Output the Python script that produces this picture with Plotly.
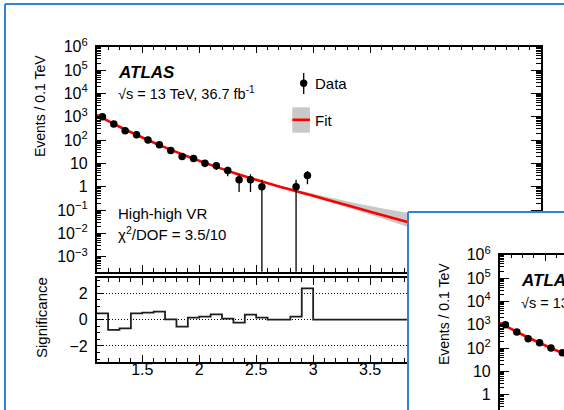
import plotly.graph_objects as go

W, H = 564, 410

# ---------------- data ----------------
bin_centers = [1.15, 1.25, 1.35, 1.45, 1.55, 1.65, 1.75, 1.85, 1.95, 2.05,
               2.15, 2.25, 2.35, 2.45, 2.55, 2.65, 2.75, 2.85, 2.95]
counts = [1000, 490, 253, 170, 100, 63, 36, 19.5, 16, 10,
          8, 5, 2, 2, 1, 0, 0, 1, 3]
count_err = [32, 22, 16, 13, 10, 8, 6, 4.4, 4, 3.2,
             2.8, 2.2, 1.41, 1.41, 1, 0, 0, 1, 1.73]

fit_x = [1.1, 1.3, 1.5, 1.7, 1.9, 2.1, 2.3, 2.5, 2.7, 2.9, 3.1, 3.3, 3.5,
         3.7, 3.9, 4.1, 4.3, 4.5, 4.7, 4.9, 5.0]
fit_y = [1200, 372, 129, 48.4, 19.7, 8.6, 3.98, 1.97, 1.02, 0.556, 0.299,
         0.160, 0.0851, 0.0457, 0.0245, 0.0132, 0.0069, 0.00363, 0.00186,
         0.00095, 0.00068]
band_hi = [1259, 389, 135, 50.1, 20.4, 8.91, 4.12, 2.07, 1.12, 0.653, 0.385,
           0.237, 0.148, 0.0977, 0.0661, 0.0468, 0.0316, 0.0224, 0.0158,
           0.0112, 0.0100]
band_lo = [1148, 355, 123, 46.8, 19.1, 8.32, 3.85, 1.88, 0.955, 0.495, 0.254,
           0.127, 0.0631, 0.0309, 0.0148, 0.00708, 0.00331, 0.00151,
           0.000676, 0.000316, 0.0002]

sig_edges = [1.1, 1.2, 1.3, 1.4, 1.5, 1.6, 1.7, 1.8, 1.9, 2.0, 2.1, 2.2, 2.3,
             2.4, 2.5, 2.6, 2.7, 2.8, 2.9, 3.0, 5.0]
sig_values = [0.48, -0.78, -0.66, 0.48, 0.53, 0.61, 0.03, -0.53, 0.15, 0.23,
              0.40, 0.08, -0.23, 0.38, 0.15, 0.0, 0.0, 0.23, 2.38, 0.0]

x_range = [1.1, 5.0]
x_tickvals = [1.5, 2.0, 2.5, 3.0, 3.5, 4.0, 4.5, 5.0]
x_ticktext = ["1.5", "2", "2.5", "3", "3.5", "", "", ""]   # last ones hidden under the overlapping box
logy_range = [-3.643, 6.0]
sig_range = [-3.2, 3.15]
y_major = [1e-3, 1e-2, 1e-1, 1, 10, 1e2, 1e3, 1e4, 1e5, 1e6]
y_major_text = ["10<sup>−3</sup>", "10<sup>−2</sup>", "10<sup>−1</sup>", "1", "10",
                "10<sup>2</sup>", "10<sup>3</sup>", "10<sup>4</sup>",
                "10<sup>5</sup>", "10<sup>6</sup>"]
y_minor = [m * 10.0 ** d for d in range(-4, 7) for m in range(2, 10)]

# ---------------- layout constants (pixels) ----------------
FONT = "Liberation Sans, Arial, Helvetica, sans-serif"
PX_X0, PX_X1 = 96.7, 541.0          # main panel x extent
TOP_Y0, TOP_Y1 = 46.7, 271.7        # main top panel
BOT_Y0, BOT_Y1 = 278.3, 361.7       # main ratio panel
DX, DY = 403.0, 208.0               # offset of the overlapping copy
BOX0 = (5.0, 4.0)                   # main box corner
BOX1 = (BOX0[0] + DX, BOX0[1] + DY)  # overlapping box corner
PX_PER_X = (PX_X1 - PX_X0) / (x_range[1] - x_range[0])
PX_PER_DEC = (TOP_Y1 - TOP_Y0) / (logy_range[1] - logy_range[0])
BLUE = "#3582d4"


def fx(p):
    return p / W


def fy(p):
    return 1 - p / H


fig = go.Figure()


def add_main_traces(xa, ya):
    fig.add_trace(go.Scatter(x=fit_x, y=band_lo, mode="lines", line=dict(width=0, shape="spline"),
                             xaxis=xa, yaxis=ya, hoverinfo="skip", showlegend=False))
    fig.add_trace(go.Scatter(x=fit_x, y=band_hi, mode="lines", line=dict(width=0, shape="spline"),
                             fill="tonexty", fillcolor="#c9c9c9",
                             xaxis=xa, yaxis=ya, hoverinfo="skip", showlegend=False))
    fig.add_trace(go.Scatter(x=fit_x, y=fit_y, mode="lines",
                             line=dict(color="#ff0000", width=2.6, shape="spline"),
                             xaxis=xa, yaxis=ya, hoverinfo="skip", showlegend=False))
    ex, ey, px, py = [], [], [], []
    for c, n, e in zip(bin_centers, counts, count_err):
        if n <= 0:
            continue
        lo = n - e
        if lo <= 0:
            lo = 1e-6
        ex += [c, c, None]
        ey += [lo, n + e, None]
        px.append(c)
        py.append(n)
    fig.add_trace(go.Scatter(x=ex, y=ey, mode="lines", line=dict(color="black", width=1.3),
                             xaxis=xa, yaxis=ya, hoverinfo="skip", showlegend=False))
    fig.add_trace(go.Scatter(x=px, y=py, mode="markers",
                             marker=dict(color="black", size=7.5, symbol="circle", line=dict(width=0)),
                             xaxis=xa, yaxis=ya, showlegend=False))


# main top panel
add_main_traces("x", "y")
# main ratio panel
fig.add_trace(go.Scatter(x=sig_edges, y=sig_values + [sig_values[-1]], mode="lines",
                         line=dict(color="#1e1e1e", width=1.8, shape="hv"),
                         xaxis="x2", yaxis="y2", showlegend=False))
# white cover (overlapping box) subplot
fig.add_trace(go.Scatter(x=[None], y=[None], xaxis="x3", yaxis="y3",
                         hoverinfo="skip", showlegend=False))
# overlapping copy of the top panel
add_main_traces("x4", "y4")

tickfont = dict(family=FONT, size=16, color="black")
common_x = dict(range=x_range, showgrid=False, zeroline=False, showline=True,
                linecolor="black", linewidth=1.5, ticks="inside", ticklen=7,
                tickwidth=1, tickcolor="black", tickmode="array",
                tickvals=x_tickvals, ticktext=x_ticktext,
                minor=dict(ticks="inside", ticklen=4, tickcolor="black", tickwidth=1,
                           tickmode="linear", tick0=0, dtick=0.1),
                tickfont=tickfont, automargin=False)
common_logy = dict(type="log", range=logy_range, showgrid=False, zeroline=False,
                   showline=True, linecolor="black", linewidth=1.5,
                   ticks="inside", ticklen=10, tickwidth=1, tickcolor="black",
                   tickmode="array", tickvals=y_major, ticktext=y_major_text,
                   minor=dict(ticks="inside", ticklen=5, tickcolor="black", tickwidth=1,
                              tickmode="array", tickvals=y_minor),
                   tickfont=tickfont, ticklabelstandoff=4, automargin=False)

fig.update_layout(
    template="none",
    width=W, height=H, autosize=False,
    margin=dict(l=0, r=0, t=0, b=0, autoexpand=False),
    paper_bgcolor="white", plot_bgcolor="white",
    font=dict(family=FONT, size=15, color="black"),
    showlegend=False,
    xaxis=dict(common_x, domain=[fx(PX_X0), fx(PX_X1)], anchor="y",
               showticklabels=False, mirror="ticks"),
    yaxis=dict(common_logy, domain=[fy(TOP_Y1), fy(TOP_Y0)], anchor="x", mirror="ticks"),
    xaxis2=dict(common_x, domain=[fx(PX_X0), fx(PX_X1)], anchor="y2",
                showticklabels=True, mirror="ticks", ticklabelstandoff=-8),
    yaxis2=dict(range=sig_range, domain=[fy(BOT_Y1), fy(BOT_Y0)], anchor="x2",
                showline=True, linecolor="black", linewidth=1.5, mirror="ticks",
                zeroline=False, ticks="inside", ticklen=7, tickwidth=1, tickcolor="black",
                tickmode="array", tickvals=[-2, 0, 2],
                showgrid=True, gridcolor="black", gridwidth=1, griddash="1px,2px",
                minor=dict(ticks="inside", ticklen=4, tickcolor="black", tickwidth=1,
                           tickmode="linear", tick0=0, dtick=0.5),
                tickfont=tickfont, ticklabelstandoff=4, automargin=False),
    xaxis3=dict(domain=[fx(BOX1[0]), 1], anchor="y3", range=[0, 1], showline=False,
                showticklabels=False, ticks="", showgrid=False, zeroline=False),
    yaxis3=dict(domain=[0, fy(BOX1[1])], anchor="x3", range=[0, 1], showline=False,
                showticklabels=False, ticks="", showgrid=False, zeroline=False),
    xaxis4=dict(common_x, domain=[fx(PX_X0 + DX), 1], anchor="y4", side="top",
                range=[x_range[0], x_range[0] + (W - PX_X0 - DX) / PX_PER_X],
                showticklabels=False, mirror=False),
    yaxis4=dict(common_logy, domain=[0, fy(TOP_Y0 + DY)], anchor="x4", mirror=False,
                range=[logy_range[1] - (H - TOP_Y0 - DY) / PX_PER_DEC, logy_range[1]]),
)

shapes = []
# legend symbols
shapes.append(dict(type="rect", xref="paper", yref="paper", x0=fx(292.3), x1=fx(310),
                   y0=fy(132.7), y1=fy(107.3), fillcolor="#c9c9c9", line=dict(width=0)))
shapes.append(dict(type="line", xref="paper", yref="paper", x0=fx(292.3), x1=fx(310),
                   y0=fy(119.8), y1=fy(119.8), line=dict(color="#ff0000", width=2.6)))
shapes.append(dict(type="line", xref="paper", yref="paper", x0=fx(303.7), x1=fx(303.7),
                   y0=fy(73), y1=fy(94), line=dict(color="black", width=1.3)))
shapes.append(dict(type="circle", xref="paper", yref="paper", x0=fx(300), x1=fx(307.4),
                   y0=fy(87), y1=fy(79.6), fillcolor="black", line=dict(width=0)))
# box borders
for bx, by in (BOX0, BOX1):
    shapes.append(dict(type="line", xref="paper", yref="paper", x0=fx(bx), x1=fx(bx),
                       y0=fy(by), y1=fy(H + 5), line=dict(color=BLUE, width=2), layer="above"))
    shapes.append(dict(type="line", xref="paper", yref="paper", x0=fx(bx), x1=fx(W + 5),
                       y0=fy(by), y1=fy(by), line=dict(color=BLUE, width=2), layer="above"))
fig.update_layout(shapes=shapes)


def text(x, y, t, size=15, anchor="left", angle=0, **kw):
    fig.add_annotation(x=fx(x), y=fy(y), xref="paper", yref="paper", text=t,
                       showarrow=False, xanchor=anchor, yanchor="middle",
                       textangle=angle, font=dict(family=FONT, size=size, color="black"),
                       **kw)


for ox, oy in ((0, 0), (DX, DY)):
    text(115.5 + ox, 72.7 + oy, "<b><i>ATLAS</i></b>", size=17)
    text(115.5 + ox, 93.5 + oy, "√s = 13 TeV, 36.7 fb<sup>-1</sup>", size=14.5)
    text(40.3 + ox, 105.8 + oy, "Events / 0.1 TeV", size=14, anchor="center", angle=-90)

text(312.5, 83.3, "Data", size=15)
text(312.5, 120, "Fit", size=15)
text(115.5, 213.3, "High-high VR", size=15)
text(115.5, 233.5, "χ<sup>2</sup>/DOF = 3.5/10", size=15)
text(41, 318, "Significance", size=15, anchor="center", angle=-90)

fig.write_html(
    "out.html",
    config={"displayModeBar": False},
    post_script=(
        "document.documentElement.style.margin='0';"
        "document.body.style.margin='0';document.body.style.padding='0';"
        "document.body.style.overflow='hidden';"
        "var d=document.getElementsByClassName('plotly-graph-div')[0];"
        "d.style.position='absolute';d.style.left='0px';d.style.top='0px';"
    ),
)
